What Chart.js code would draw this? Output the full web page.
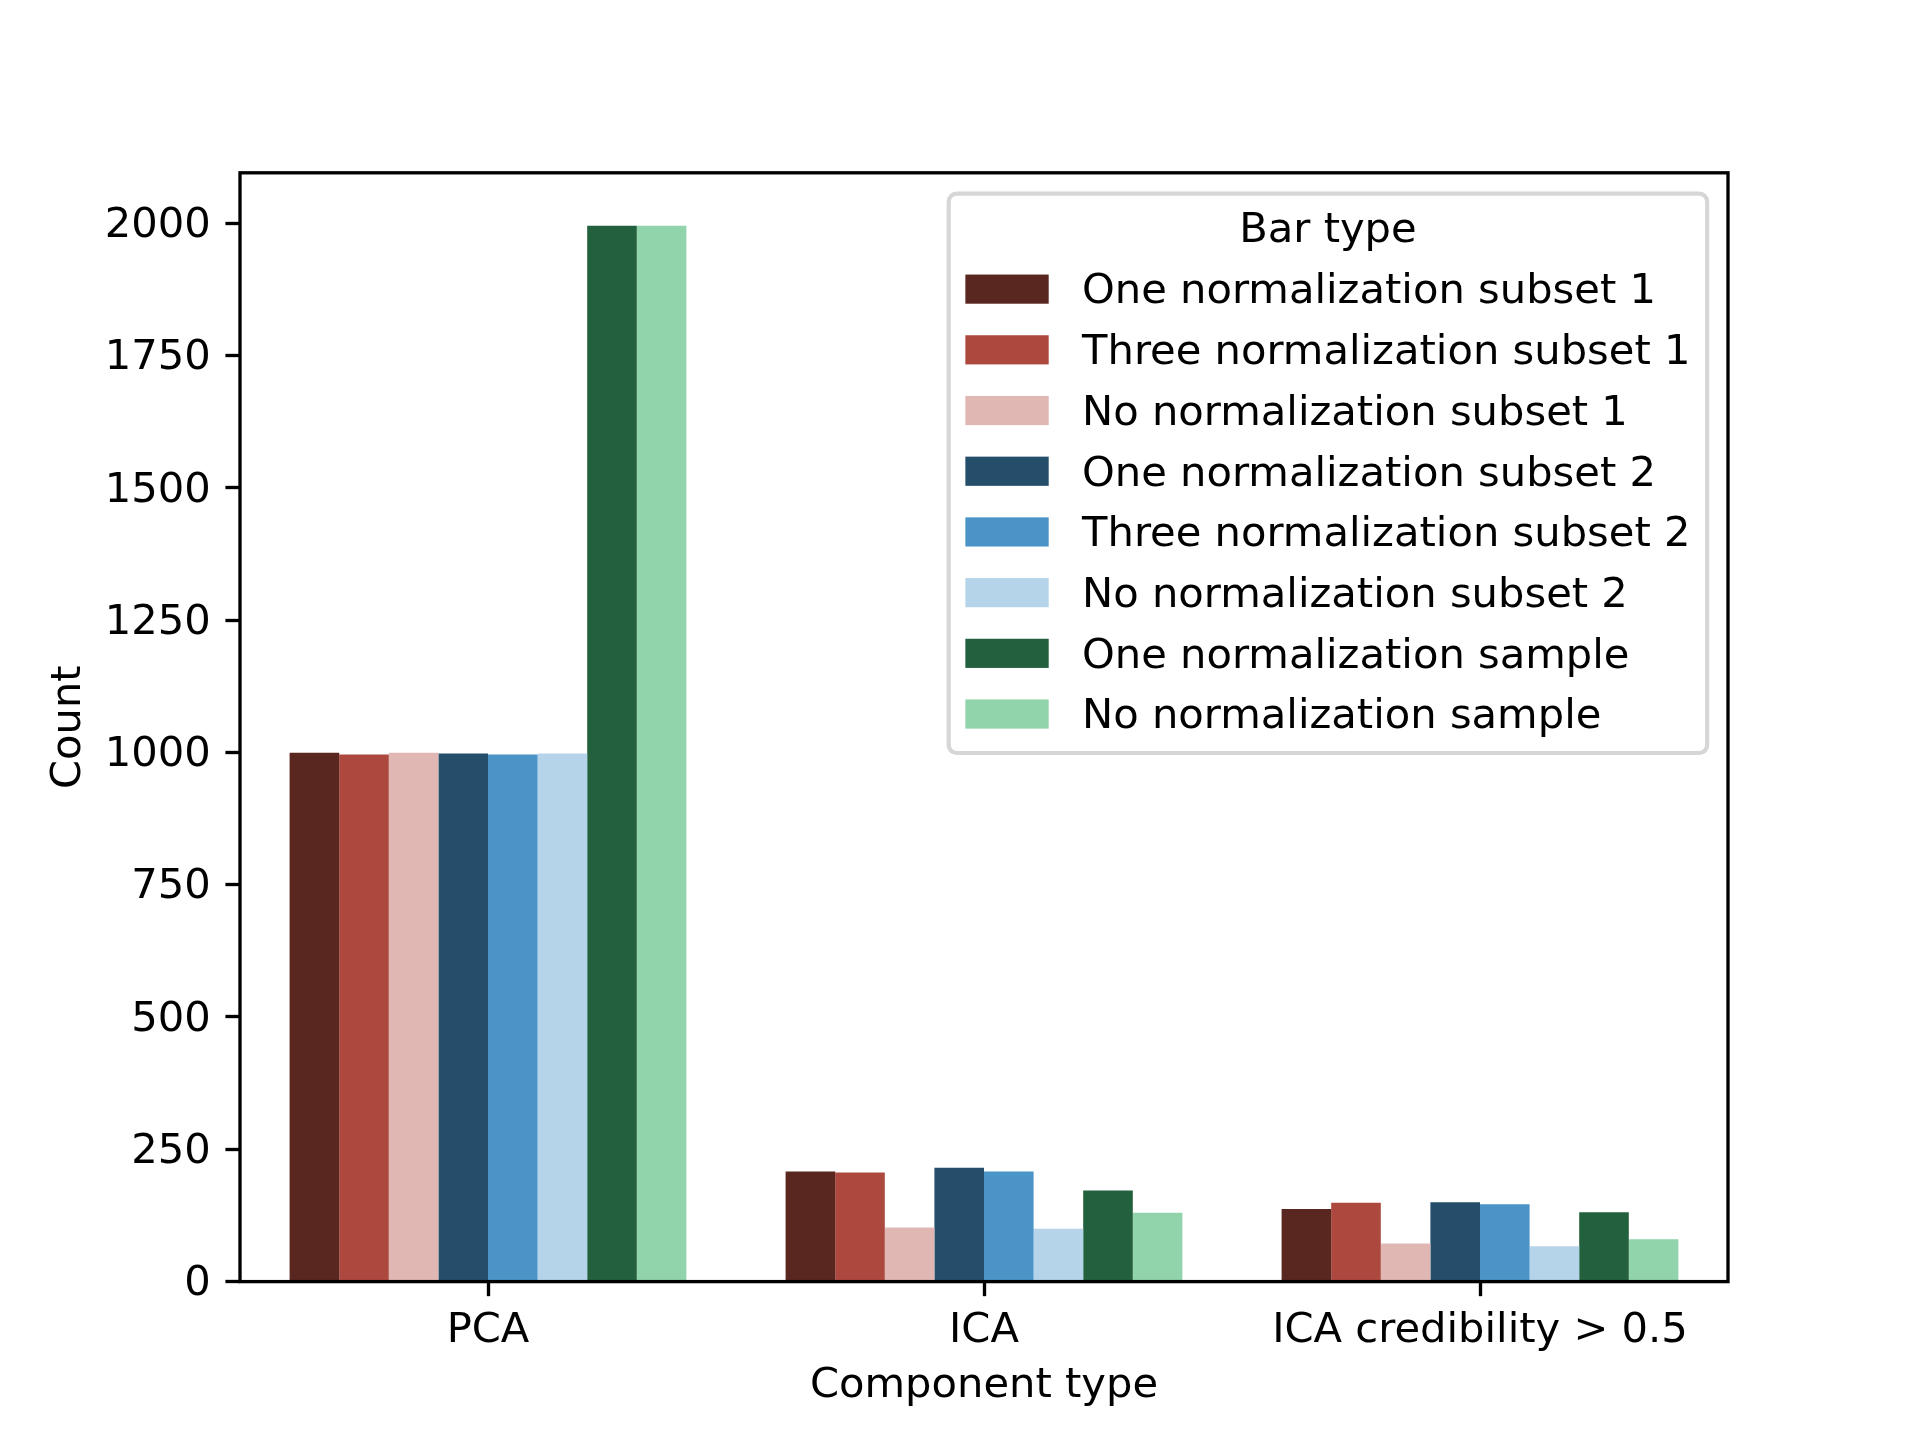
<!DOCTYPE html>
<html>
<head>
<meta charset="utf-8">
<script src="https://cdn.jsdelivr.net/npm/chart.js@4/dist/chart.umd.min.js"></script>
<style>
  html, body { margin: 0; padding: 0; background: #fff; }
  canvas { display: block; }
</style>
</head>
<body>
<canvas id="myChart" width="1920" height="1440"></canvas>
<script>
// categories and series
const categories = ['PCA', 'ICA', 'ICA credibility > 0.5'];

const seriesLabels = [
    'One normalization subset 1',
    'Three normalization subset 1',
    'No normalization subset 1',
    'One normalization subset 2',
    'Three normalization subset 2',
    'No normalization subset 2',
    'One normalization sample',
    'No normalization sample'
];

const oneNormSubset1 = [999, 208, 137];
const threeNormSubset1 = [996, 206, 149];
const noNormSubset1 = [999, 102, 72];
const oneNormSubset2 = [998, 215, 150];
const threeNormSubset2 = [996, 208, 146];
const noNormSubset2 = [998, 100, 67];
const oneNormSample = [1995, 172, 131];
const noNormSample = [1995, 130, 80];

const yTicks = [0, 250, 500, 750, 1000, 1250, 1500, 1750, 2000];

const seriesColors = [
    '#5a2620', '#ad483f', '#e0b7b3', '#244e69',
    '#4a94c7', '#b6d4e9', '#22603e', '#91d4ac'
];

const seriesValues = [
    oneNormSubset1, threeNormSubset1, noNormSubset1, oneNormSubset2,
    threeNormSubset2, noNormSubset2, oneNormSample, noNormSample
];

const FONT = '"DejaVu Sans", sans-serif';
const PT = 300 / 72;          // the figure was made at 300 dpi
const FS = 10 * PT;           // 10pt text
const LW = 0.8 * PT;          // spine / tick width

// axes frame + legend box, drawn like the matplotlib original
const framePlugin = {
    id: 'frame',
    afterDatasetsDraw(chart) {
        const ctx = chart.ctx;
        const a = chart.chartArea;
        ctx.save();
        ctx.strokeStyle = '#000';
        ctx.lineWidth = LW;
        ctx.strokeRect(a.left, a.top, a.right - a.left, a.bottom - a.top);
        ctx.restore();
    },
    afterDraw(chart) {
        const ctx = chart.ctx;
        const a = chart.chartArea;
        const sets = chart.data.datasets;
        ctx.save();
        ctx.font = FS + 'px ' + FONT;
        let maxText = 0;
        sets.forEach(ds => { maxText = Math.max(maxText, ctx.measureText(ds.label).width); });

        const pad = 0.4 * FS, handleLen = 2 * FS, textPad = 0.8 * FS, axPad = 0.5 * FS;
        const rowStep = 60.7;
        const w = pad * 2 + handleLen + textPad + maxText;
        const right = a.right - axPad;
        const left = right - w;
        const top = a.top + axPad;
        const titleY = top + 34.5;
        const firstRow = titleY + 61;
        const bottom = firstRow + rowStep * (sets.length - 1) + 39;
        const textShift = 3.5;

        // frame
        const r = 8;
        ctx.beginPath();
        ctx.moveTo(left + r, top);
        ctx.arcTo(right, top, right, bottom, r);
        ctx.arcTo(right, bottom, left, bottom, r);
        ctx.arcTo(left, bottom, left, top, r);
        ctx.arcTo(left, top, right, top, r);
        ctx.closePath();
        ctx.fillStyle = 'rgba(255,255,255,0.8)';
        ctx.fill();
        ctx.strokeStyle = '#d6d6d6';
        ctx.lineWidth = 1 * PT;
        ctx.stroke();

        // title
        ctx.fillStyle = '#000';
        ctx.textAlign = 'center';
        ctx.textBaseline = 'middle';
        ctx.fillText('Bar type', (left + right) / 2, titleY + textShift);

        // entries
        ctx.textAlign = 'left';
        sets.forEach((ds, i) => {
            const cy = firstRow + i * rowStep;
            ctx.fillStyle = ds.backgroundColor;
            ctx.fillRect(left + pad, cy - 0.35 * FS, handleLen, 0.7 * FS);
            ctx.fillStyle = '#000';
            ctx.fillText(ds.label, left + pad + handleLen + textPad, cy + textShift);
        });
        ctx.restore();
    }
};

const data = {
    labels: categories,
    datasets: seriesLabels.map((label, i) => ({
        label: label,
        data: seriesValues[i],
        backgroundColor: seriesColors[i],
        borderWidth: 0,
        categoryPercentage: 0.8,
        barPercentage: 1.0
    }))
};

const config = {
    type: 'bar',
    data: data,
    options: {
        responsive: false,
        animation: false,
        devicePixelRatio: 1,
        layout: {
            padding: { top: 172.8, right: 192, bottom: 0, left: 0 }
        },
        plugins: {
            legend: { display: false },
            tooltip: { enabled: false }
        },
        scales: {
            x: {
                offset: true,
                afterFit: (scale) => { scale.height = 158.4; },
                grid: {
                    display: true,
                    offset: false,
                    drawOnChartArea: false,
                    drawTicks: true,
                    tickLength: 3.5 * PT,
                    tickWidth: LW,
                    tickColor: '#000'
                },
                border: { display: false },
                ticks: {
                    color: '#000',
                    font: { family: FONT, size: FS },
                    padding: 10,
                    maxRotation: 0
                },
                title: {
                    display: true,
                    text: 'Component type',
                    color: '#000',
                    font: { family: FONT, size: FS },
                    padding: { top: 0, bottom: 28.5 }
                }
            },
            y: {
                min: 0,
                max: 2095,
                afterFit: (scale) => { scale.width = 240; },
                afterBuildTicks: (scale) => { scale.ticks = yTicks.map(v => ({ value: v })); },
                grid: {
                    display: true,
                    drawOnChartArea: false,
                    drawTicks: true,
                    tickLength: 3.5 * PT,
                    tickWidth: LW,
                    tickColor: '#000'
                },
                border: { display: false },
                ticks: {
                    color: '#000',
                    font: { family: FONT, size: FS },
                    padding: 3.5 * PT,
                    labelOffset: 3,
                    includeBounds: false,
                    callback: (value) => String(value)
                },
                title: {
                    display: true,
                    text: 'Count',
                    color: '#000',
                    font: { family: FONT, size: FS },
                    padding: { top: 44, bottom: 0 }
                }
            }
        }
    },
    plugins: [framePlugin]
};

const myChart = new Chart(
    document.getElementById('myChart'),
    config
);
</script>
</body>
</html>
